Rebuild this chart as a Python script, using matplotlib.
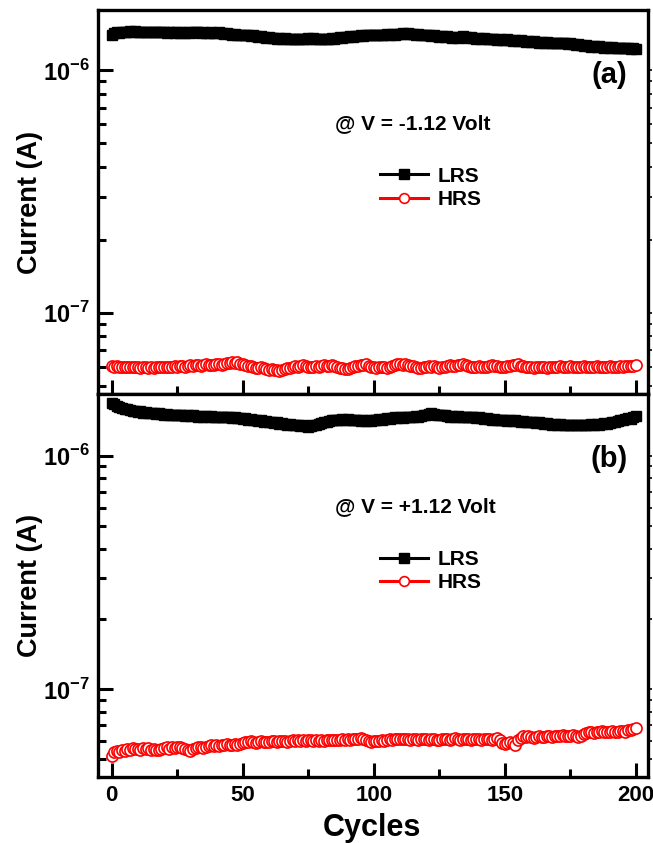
import numpy as np
import matplotlib
matplotlib.use("Agg")
import matplotlib.pyplot as plt
from matplotlib.ticker import LogLocator, NullFormatter, FixedLocator, FixedFormatter

plt.rcParams['font.family'] = ['Liberation Sans', 'DejaVu Sans']
plt.rcParams['font.weight'] = 'bold'
plt.rcParams['mathtext.fontset'] = 'custom'
plt.rcParams['mathtext.rm'] = 'Liberation Sans:bold'
plt.rcParams['mathtext.bf'] = 'Liberation Sans:bold'

cycles = np.arange(0, 201)

# panel (a), V = -1.12 V  (LRS in uA, HRS in 1e-8 A)
lrs_a = [1.40, 1.42, 1.43, 1.42, 1.44, 1.43, 1.44, 1.45, 1.44, 1.45,
         1.44, 1.43, 1.44, 1.43, 1.44, 1.43, 1.44, 1.43, 1.43, 1.44,
         1.43, 1.42, 1.43, 1.43, 1.42, 1.43, 1.42, 1.43, 1.42, 1.43,
         1.42, 1.43, 1.44, 1.43, 1.42, 1.43, 1.42, 1.42, 1.43, 1.42,
         1.42, 1.43, 1.42, 1.41, 1.42, 1.41, 1.40, 1.41, 1.40, 1.40,
         1.39, 1.40, 1.39, 1.38, 1.39, 1.38, 1.37, 1.38, 1.37, 1.36,
         1.37, 1.36, 1.36, 1.35, 1.36, 1.35, 1.36, 1.35, 1.35, 1.34,
         1.35, 1.34, 1.35, 1.34, 1.35, 1.36, 1.35, 1.36, 1.35, 1.34,
         1.35, 1.34, 1.35, 1.35, 1.36, 1.35, 1.36, 1.37, 1.36, 1.37,
         1.37, 1.38, 1.37, 1.38, 1.38, 1.39, 1.38, 1.39, 1.39, 1.40,
         1.39, 1.40, 1.40, 1.39, 1.40, 1.41, 1.40, 1.41, 1.40, 1.41,
         1.41, 1.42, 1.41, 1.42, 1.41, 1.41, 1.40, 1.41, 1.40, 1.39,
         1.40, 1.39, 1.38, 1.39, 1.38, 1.37, 1.38, 1.37, 1.38, 1.37,
         1.36, 1.37, 1.36, 1.37, 1.38, 1.37, 1.36, 1.37, 1.36, 1.35,
         1.36, 1.35, 1.36, 1.35, 1.34, 1.35, 1.34, 1.33, 1.34, 1.33,
         1.33, 1.34, 1.33, 1.32, 1.33, 1.32, 1.33, 1.32, 1.31, 1.32,
         1.31, 1.32, 1.31, 1.30, 1.31, 1.30, 1.31, 1.30, 1.30, 1.29,
         1.30, 1.29, 1.30, 1.29, 1.28, 1.29, 1.28, 1.27, 1.28, 1.27,
         1.26, 1.27, 1.26, 1.25, 1.26, 1.25, 1.26, 1.25, 1.24, 1.25,
         1.24, 1.25, 1.24, 1.23, 1.24, 1.23, 1.24, 1.23, 1.22, 1.23,
         1.22]
hrs_a = [6.05, 6.00, 6.02, 5.98, 6.00, 5.97, 6.01, 5.98, 5.96, 6.00,
         5.97, 5.95, 5.99, 5.96, 5.94, 5.98, 5.95, 5.97, 5.99, 5.96,
         5.98, 6.01, 5.97, 6.00, 6.03, 5.99, 6.02, 6.05, 6.01, 6.04,
         6.07, 6.03, 6.08, 6.12, 6.06, 6.10, 6.14, 6.08, 6.12, 6.09,
         6.13, 6.17, 6.11, 6.15, 6.20, 6.24, 6.28, 6.22, 6.26, 6.18,
         6.14, 6.10, 6.06, 6.02, 5.98, 5.95, 5.92, 5.96, 5.90, 5.87,
         5.84, 5.88, 5.82, 5.80, 5.78, 5.83, 5.86, 5.90, 5.94, 5.98,
         6.02, 5.98, 6.05, 6.09, 6.03, 6.00, 5.96, 6.01, 6.05, 5.99,
         6.03, 6.08, 6.02, 6.06, 6.10, 6.04, 5.98, 5.94, 5.90, 5.86,
         5.88, 5.92, 5.97, 6.02, 6.06, 6.12, 6.08, 6.14, 6.06, 6.00,
         5.96, 5.93, 5.97, 6.01, 5.98, 5.95, 5.99, 6.03, 6.08, 6.14,
         6.18, 6.12, 6.16, 6.10, 6.06, 6.02, 5.98, 5.95, 5.92, 5.96,
         6.00, 6.04, 5.99, 6.03, 5.97, 5.94, 5.97, 6.00, 6.04, 6.08,
         6.02, 6.06, 6.11, 6.07, 6.14, 6.09, 6.04, 6.00, 5.97, 6.01,
         6.04, 6.00, 5.96, 5.99, 6.03, 6.07, 6.02, 6.06, 6.00, 5.96,
         5.99, 6.03, 6.06, 6.10, 6.08, 6.13, 6.06, 6.02, 5.98, 6.01,
         5.97, 5.95, 5.98, 5.96, 5.99, 5.97, 5.95, 5.98, 6.00, 5.97,
         5.99, 6.02, 5.98, 6.01, 5.99, 6.03, 6.00, 5.98, 6.01, 5.99,
         6.02, 6.00, 5.98, 6.01, 5.99, 6.02, 6.00, 5.98, 6.01, 5.99,
         6.02, 6.00, 5.98, 6.01, 6.03, 6.00, 6.02, 6.05, 6.03, 6.06,
         6.07]

# panel (b), V = +1.12 V
lrs_b = [1.68, 1.66, 1.64, 1.62, 1.60, 1.59, 1.58, 1.57, 1.56, 1.55,
         1.54, 1.55, 1.53, 1.54, 1.52, 1.53, 1.52, 1.51, 1.52, 1.51,
         1.50, 1.51, 1.50, 1.49, 1.50, 1.49, 1.50, 1.49, 1.48, 1.49,
         1.48, 1.49, 1.48, 1.47, 1.48, 1.47, 1.48, 1.47, 1.48, 1.47,
         1.47, 1.46, 1.47, 1.46, 1.47, 1.46, 1.45, 1.46, 1.45, 1.45,
         1.44, 1.45, 1.43, 1.44, 1.42, 1.43, 1.41, 1.42, 1.40, 1.41,
         1.39, 1.40, 1.38, 1.39, 1.37, 1.38, 1.37, 1.36, 1.37, 1.36,
         1.35, 1.36, 1.34, 1.35, 1.34, 1.33, 1.34, 1.35, 1.36, 1.37,
         1.38, 1.39, 1.40, 1.41, 1.42, 1.43, 1.42, 1.43, 1.44, 1.43,
         1.44, 1.43, 1.42, 1.43, 1.42, 1.41, 1.42, 1.41, 1.42, 1.41,
         1.42, 1.43, 1.44, 1.43, 1.44, 1.45, 1.44, 1.45, 1.46, 1.45,
         1.46, 1.45, 1.46, 1.47, 1.46, 1.47, 1.48, 1.47, 1.48, 1.49,
         1.50, 1.51, 1.52, 1.51, 1.50, 1.49, 1.50, 1.49, 1.48, 1.47,
         1.48, 1.47, 1.48, 1.47, 1.46, 1.47, 1.46, 1.47, 1.46, 1.45,
         1.46, 1.45, 1.44, 1.45, 1.44, 1.43, 1.44, 1.43, 1.42, 1.43,
         1.42, 1.41, 1.42, 1.41, 1.42, 1.41, 1.40, 1.41, 1.40, 1.39,
         1.40, 1.39, 1.38, 1.39, 1.38, 1.37, 1.38, 1.37, 1.36, 1.37,
         1.36, 1.37, 1.36, 1.35, 1.36, 1.35, 1.36, 1.35, 1.36, 1.35,
         1.36, 1.35, 1.36, 1.37, 1.36, 1.37, 1.36, 1.37, 1.38, 1.37,
         1.38, 1.39, 1.40, 1.41, 1.42, 1.43, 1.44, 1.45, 1.44, 1.46,
         1.48]
hrs_b = [5.15, 5.35, 5.45, 5.40, 5.50, 5.45, 5.52, 5.48, 5.58, 5.52,
         5.55, 5.50, 5.58, 5.54, 5.60, 5.48, 5.52, 5.46, 5.50, 5.55,
         5.58, 5.62, 5.56, 5.64, 5.60, 5.66, 5.62, 5.58, 5.54, 5.50,
         5.45, 5.52, 5.60, 5.66, 5.62, 5.58, 5.64, 5.70, 5.74, 5.70,
         5.76, 5.72, 5.78, 5.74, 5.80, 5.76, 5.78, 5.82, 5.78, 5.84,
         5.88, 5.92, 5.96, 5.98, 5.94, 5.90, 5.96, 6.00, 5.96, 5.92,
         5.96, 6.00, 5.97, 5.94, 5.98, 6.02, 5.98, 5.95, 5.99, 6.03,
         6.00, 6.04, 6.01, 6.05, 6.02, 6.06, 6.03, 6.00, 6.04, 6.01,
         6.05, 6.02, 6.06, 6.03, 6.07, 6.04, 6.08, 6.05, 6.09, 6.06,
         6.10, 6.07, 6.11, 6.14, 6.10, 6.16, 6.12, 6.08, 5.98, 5.95,
         6.00, 5.97, 6.02, 6.05, 6.01, 6.06, 6.10, 6.07, 6.12, 6.09,
         6.13, 6.10, 6.14, 6.11, 6.08, 6.12, 6.09, 6.06, 6.10, 6.13,
         6.10, 6.06, 6.09, 6.12, 6.08, 6.05, 6.09, 6.13, 6.10, 6.07,
         6.11, 6.15, 6.12, 6.08, 6.11, 6.14, 6.10, 6.06, 6.09, 6.12,
         6.09, 6.06, 6.10, 6.14, 6.11, 6.08, 6.13, 6.16, 6.05, 5.90,
         5.82, 5.88, 5.95, 5.85, 5.78, 6.05, 6.18, 6.28, 6.24, 6.30,
         6.22, 6.18, 6.24, 6.28, 6.22, 6.26, 6.30, 6.27, 6.24, 6.29,
         6.32, 6.28, 6.34, 6.30, 6.27, 6.31, 6.35, 6.30, 6.26, 6.32,
         6.40, 6.48, 6.52, 6.56, 6.50, 6.58, 6.54, 6.62, 6.56, 6.52,
         6.58, 6.62, 6.56, 6.52, 6.60, 6.64, 6.58, 6.66, 6.70, 6.74,
         6.82]

panels = [
    dict(lrs=np.array(lrs_a) * 1e-6, hrs=np.array(hrs_a) * 1e-8,
         ylim=(4.63e-8, 1.77e-6), tag='(a)', volt='@ V = -1.12 Volt',
         rect=[98 / 653, 1 - 394 / 843, 550 / 653, 384 / 843]),
    dict(lrs=np.array(lrs_b) * 1e-6, hrs=np.array(hrs_b) * 1e-8,
         ylim=(4.2e-8, 1.84e-6), tag='(b)', volt='@ V = +1.12 Volt',
         rect=[98 / 653, 1 - 777 / 843, 550 / 653, 383 / 843]),
]

fig = plt.figure(figsize=(6.53, 8.43), dpi=100)

for i, p in enumerate(panels):
    ax = fig.add_axes(p['rect'])
    ax.plot(cycles, p['lrs'], color='black', lw=2.5, marker='s', ms=6.5,
            mfc='black', mec='black', label='LRS', zorder=3)
    ax.plot(cycles, p['hrs'], color='red', lw=1, marker='o', ms=8,
            mfc='white', mec='red', mew=1.2, label='HRS', zorder=3)
    ax.set_yscale('log')
    ax.set_ylim(*p['ylim'])
    ax.set_xlim(-5.2, 204.6)

    ax.yaxis.set_major_locator(FixedLocator([1e-7, 1e-6]))
    ax.yaxis.set_major_formatter(FixedFormatter([r'$10^{-7}$', r'$10^{-6}$']))
    ax.yaxis.set_minor_locator(LogLocator(base=10, subs=np.arange(2, 10)))
    ax.yaxis.set_minor_formatter(NullFormatter())
    ax.set_xticks([0, 50, 100, 150, 200])
    ax.set_xticks([25, 75, 125, 175], minor=True)

    ax.tick_params(axis='y', which='major', direction='in', length=11, width=2.2,
                   labelsize=17, pad=6, right=False)
    ax.tick_params(axis='y', which='minor', direction='in', length=6, width=2.2,
                   right=False)
    ax.tick_params(axis='x', which='major', direction='in', length=10, width=2.2,
                   labelsize=16, pad=6, top=False)
    ax.tick_params(axis='x', which='minor', direction='in', length=6, width=2.2,
                   top=False)
    if i == 0:
        ax.tick_params(axis='x', labelbottom=False)
    else:
        ax.set_xlabel('Cycles', fontsize=22, fontweight='bold')
        ax.xaxis.set_label_coords(0.498, -0.095)
    for s in ax.spines.values():
        s.set_linewidth(2.4)

    # small outward ticks on the right spine
    ax2 = ax.twinx()
    ax2.set_yscale('log')
    ax2.set_ylim(*p['ylim'])
    ax2.yaxis.set_major_locator(FixedLocator([1e-7, 1e-6]))
    ax2.yaxis.set_minor_locator(LogLocator(base=10, subs=np.arange(2, 10)))
    ax2.yaxis.set_minor_formatter(NullFormatter())
    ax2.tick_params(which='both', direction='out', length=3, width=1.2,
                    labelright=False)
    for s in ax2.spines.values():
        s.set_visible(False)

    ax.set_ylabel('Current (A)', fontsize=19.5, fontweight='bold')
    ax.yaxis.set_label_coords(-0.1, 0.5)

    ax.text(0.929, 0.831, p['tag'], transform=ax.transAxes, fontsize=21,
            fontweight='bold', ha='center', va='center')
    ax.text(0.431, 0.705, p['volt'], transform=ax.transAxes, fontsize=15,
            fontweight='bold', ha='left', va='center')
    leg = ax.legend(loc='center left', bbox_to_anchor=(0.513, 0.537),
                    frameon=False, fontsize=15, handlelength=2.3,
                    handletextpad=0.45, labelspacing=0.2, borderpad=0,
                    borderaxespad=0, numpoints=1)
    for h in leg.legend_handles:
        h.set_linewidth(2.2)
        h.set_markersize(7)

fig.savefig('out.png', dpi=100)
